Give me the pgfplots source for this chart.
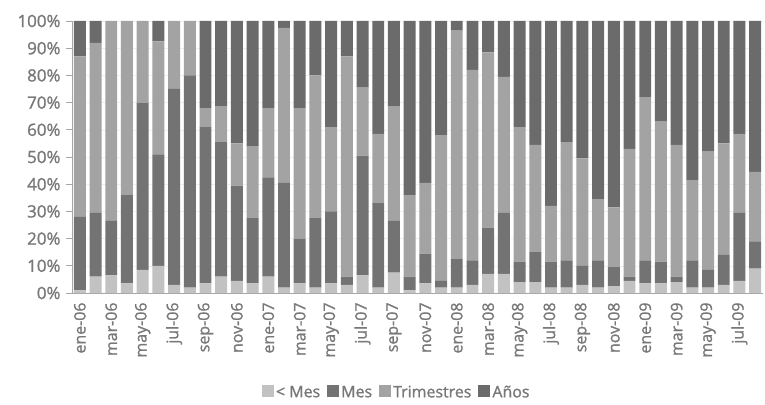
\documentclass[border=0pt]{standalone}
\usepackage{pgfplots}
\pgfplotsset{compat=1.18}
\usepackage{pgfplotstable}
\usepackage{fontspec}
\setmainfont{Open Sans}[FakeBold=1.2]
\definecolor{cAnos}{gray}{0.42}
\definecolor{cMes}{gray}{0.45}
\definecolor{cTri}{gray}{0.64}
\definecolor{cLMes}{gray}{0.76}
\definecolor{txt}{gray}{0.47}
% x  <Mes  Mes  Trimestres  Anos   (percent, stacked)
\pgfplotstableread{
x lm m t a
0 1 27 59 13
1 6 23.5 62.5 8
2 6.5 20 73.5 0
3 3.5 32.5 64 0
4 8.5 61.5 30 0
5 10 41 41.5 7.5
6 3 72 25 0
7 2 78 20 0
8 3.5 57.5 7 32
9 6 49.5 13 31.5
10 4.5 35 15.5 45
11 3.5 24 26.5 46
12 6 36.5 25.5 32
13 2 38.5 57 2.5
14 3.5 16.5 48 32
15 2 25.5 52.5 20
16 3.5 26.5 31 39
17 3 3 81 13
18 6.5 44 25 24.5
19 2 31 25.5 41.5
20 7.5 19 42 31.5
21 1 5 30 64
22 3.5 11 26 59.5
23 2 2.5 53.5 42
24 2 10.5 84 3.5
25 3 9 70 18
26 7 17 64.5 11.5
27 7 22.5 50 20.5
28 4 7.5 49.5 39
29 4 11 39.5 45.5
30 2 9.5 20.5 68
31 2 10 43.5 44.5
32 3 7 39.5 50.5
33 2 10 22.5 65.5
34 2.5 7 22 68.5
35 4.5 1.5 47 47
36 3.5 8.5 60 28
37 3.5 8 51.5 37
38 4 2 48.5 45.5
39 2 10 29.5 58.5
40 2 6.5 43.5 48
41 3 11 41 45
42 4.5 25 29 41.5
43 9 10 25.5 55.5
}\datatable
\begin{document}
\begin{tikzpicture}
\path[use as bounding box] (-72bp,-112bp) rectangle (693bp,293bp);
\begin{axis}[
  scale only axis,
  width=691bp, height=272bp,
  ybar stacked,
  bar width=0.76,
  xmin=-0.5, xmax=43.5,
  ymin=0, ymax=100,
  axis x line*=bottom,
  axis y line*=left,
  axis line style={draw=gray!70, line width=0.9pt},
  ytick={0,10,...,100},
  yticklabel={\pgfmathprintnumber{\tick}\%},
  yticklabel style={font=\fontsize{17}{19}\selectfont, text=txt, xshift=-2bp, /pgf/number format/assume math mode=true},
  ymajorgrids,
  grid style={draw=gray!12, line width=0.4pt},
  major tick length=6bp,
  minor tick length=5bp,
  tick style={draw=gray!70, line width=0.9pt},
  tick align=outside,
  xtick={0,2,...,42},
  xticklabels={ene-06,mar-06,may-06,jul-06,sep-06,nov-06,ene-07,mar-07,may-07,jul-07,sep-07,nov-07,ene-08,mar-08,may-08,jul-08,sep-08,nov-08,ene-09,mar-09,may-09,jul-09},
  xtick style={draw=none},
  minor xtick={-0.5,1.5,...,43.5},
  xticklabel style={rotate=90, anchor=east, font=\fontsize{16}{18}\selectfont, text=txt},
  legend columns=4,
  legend style={at={(0.47,-0.365)}, anchor=center, draw=none, fill=none,
    font=\fontsize{16}{18}\selectfont, text=txt,
    /tikz/every even column/.append style={column sep=5bp}},
  legend image code/.code={\fill[#1] (0bp,-5bp) rectangle (12bp,7bp);},
  every axis plot/.append style={draw=none},
]
\addplot[fill=cLMes] table[x=x,y=lm]{\datatable};
\addplot[fill=cMes] table[x=x,y=m]{\datatable};
\addplot[fill=cTri] table[x=x,y=t]{\datatable};
\addplot[fill=cAnos] table[x=x,y=a]{\datatable};
\legend{< Mes, Mes, Trimestres, Años}
\end{axis}
\end{tikzpicture}
\end{document}
